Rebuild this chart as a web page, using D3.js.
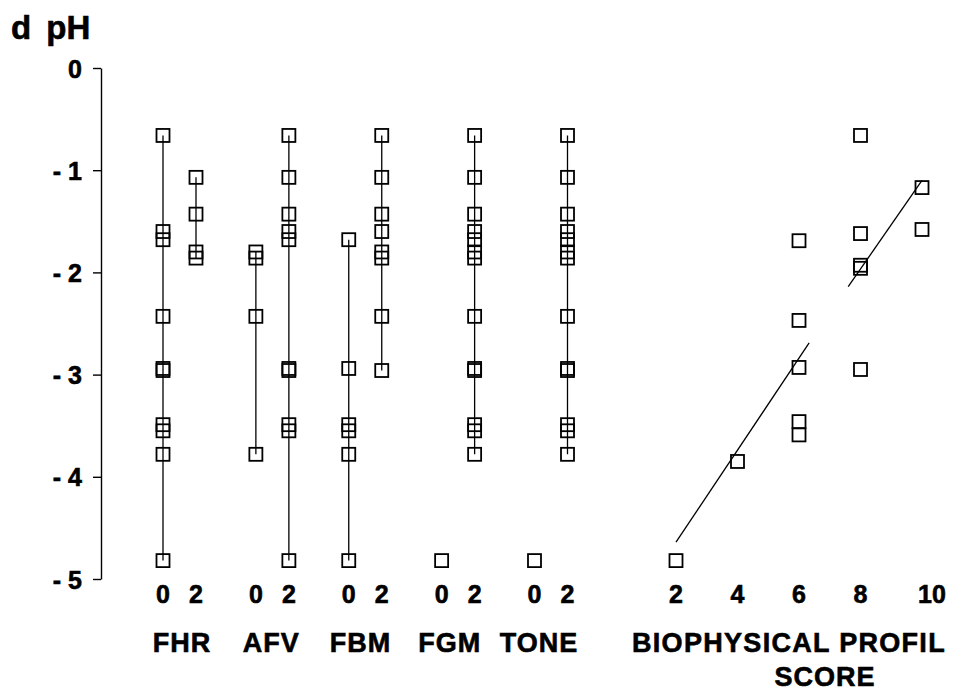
<!DOCTYPE html>
<html>
<head>
  <meta charset="utf-8">
  <title>d pH by biophysical profile item</title>
  <style>
    body { margin: 0; background: #fff; }
    svg text { font-family: "Liberation Sans", Arial, sans-serif; font-weight: bold; fill: #000; stroke: #000; stroke-width: 0.6; }
    .sq { fill: none; stroke: #000; stroke-width: 1.8; }
    .rng { stroke: #000; stroke-width: 1.3; }
  </style>
</head>
<body>
  <svg id="chart"></svg>

  <script src="https://cdn.jsdelivr.net/npm/d3@7"></script>
  <script>
    // biophysical profile items, each scored 0 or 2
    const groups = ['FHR', 'AFV', 'FBM', 'FGM', 'TONE'];
    const itemScores = [0, 2];

    // d pH values per item score
    const fhr0 = [-0.66, -1.6, -1.68, -2.43, -2.94, -2.96, -3.49, -3.55, -3.78, -4.82];
    const fhr2 = [-1.07, -1.43, -1.8, -1.86];
    const afv0 = [-1.8, -1.86, -2.43, -3.78];
    const afv2 = [-0.66, -1.07, -1.43, -1.6, -1.68, -2.94, -2.96, -3.49, -3.55, -4.82];
    const fbm0 = [-1.68, -2.94, -3.49, -3.55, -3.78, -4.82];
    const fbm2 = [-0.66, -1.07, -1.43, -1.6, -1.8, -1.86, -2.43, -2.96];
    const fgm0 = [-4.82];
    const fgm2 = [-0.66, -1.07, -1.43, -1.6, -1.68, -1.8, -1.86, -2.43, -2.94, -2.96, -3.49, -3.55, -3.78];
    const tone0 = [-4.82];
    const tone2 = [-0.66, -1.07, -1.43, -1.6, -1.68, -1.8, -1.86, -2.43, -2.94, -2.96, -3.49, -3.55, -3.78];

    // total biophysical profile score vs d pH
    const bpScores = [2, 4, 6, 6, 6, 6, 6, 8, 8, 8, 8, 8, 10, 10];
    const bpDpH = [-4.82, -3.85, -1.69, -2.47, -2.93, -3.46, -3.59, -0.66, -1.62, -1.93, -1.96, -2.95, -1.17, -1.58];
    const bpTicks = [2, 4, 6, 8, 10];

    // fitted lines (score, d pH at each end)
    const fit1X = [2, 6.33];
    const fit1Y = [-4.64, -2.69];
    const fit2X = [7.6, 10];
    const fit2Y = [-2.14, -1.1];

    const yTicks = [0, -1, -2, -3, -4, -5];

    const width = 955, height = 696;
    const svg = d3.select('#chart').attr('width', width).attr('height', height);

    const y = d3.scaleLinear().domain([0, -5]).range([68, 579]);
    const xGroup = d3.scalePoint().domain(groups).range([179.5, 551]);
    const xItem = d3.scaleLinear().domain([0, 2]).range([-16.5, 16.5]);
    const xScore = d3.scaleLinear().domain([2, 10]).range([676, 922]);
    // group names sit a little tighter than the columns
    const xGroupLabel = d3.scalePoint().domain(groups).range([182, 539]);

    // columns table built from the arrays above
    const values = [[fhr0, fhr2], [afv0, afv2], [fbm0, fbm2], [fgm0, fgm2], [tone0, tone2]];
    const columns = [];
    groups.forEach((g, i) => {
      itemScores.forEach((s, j) => {
        columns.push({ group: g, score: s, vals: values[i][j], x: xGroup(g) + xItem(s) });
      });
    });

    // y axis
    const yAxis = d3.axisLeft(y)
      .tickValues(yTicks)
      .tickSize(8)
      .tickSizeOuter(0)
      .tickPadding(11)
      .tickFormat(d => d === 0 ? '0' : '- ' + Math.abs(d));
    const ya = svg.append('g').attr('transform', 'translate(101,0)').call(yAxis);
    ya.selectAll('path, line').attr('stroke', '#000').attr('stroke-width', 1.4);
    ya.selectAll('text').attr('font-size', 25).attr('font-family', null).attr('dy', '0.36em');

    svg.append('text')
      .attr('x', 11).attr('y', 39)
      .attr('font-size', 33)
      .attr('word-spacing', 6)
      .text('d pH');

    // range lines and squares for item columns
    const half = 6.5;
    columns.filter(c => c.vals.length > 1).forEach(c => {
      svg.append('line').attr('class', 'rng')
        .attr('x1', c.x).attr('x2', c.x)
        .attr('y1', y(d3.max(c.vals))).attr('y2', y(d3.min(c.vals)));
    });
    columns.forEach(c => {
      svg.selectAll(null).data(c.vals).enter().append('rect')
        .attr('class', 'sq')
        .attr('x', c.x - half).attr('y', d => y(d) - half)
        .attr('width', half * 2).attr('height', half * 2);
    });

    // fitted lines
    [[fit1X, fit1Y], [fit2X, fit2Y]].forEach(([fx, fy]) => {
      svg.append('line').attr('class', 'rng')
        .attr('x1', xScore(fx[0])).attr('y1', y(fy[0]))
        .attr('x2', xScore(fx[1])).attr('y2', y(fy[1]));
    });

    // biophysical score squares
    svg.selectAll('.bp').data(bpScores).enter().append('rect')
      .attr('class', 'sq bp')
      .attr('x', d => xScore(d) - half)
      .attr('y', (d, i) => y(bpDpH[i]) - half)
      .attr('width', half * 2).attr('height', half * 2);

    // bottom labels
    svg.selectAll('.itemlab').data(columns).enter().append('text')
      .attr('class', 'itemlab')
      .attr('x', d => d.x).attr('y', 603)
      .attr('text-anchor', 'middle')
      .attr('font-size', 25)
      .text(d => d.score);

    svg.selectAll('.bplab').data(bpTicks).enter().append('text')
      .attr('class', 'bplab')
      .attr('x', d => xScore(d) + (String(d).length > 1 ? 10 : 0)).attr('y', 603)
      .attr('text-anchor', 'middle')
      .attr('font-size', 25)
      .text(d => d);

    svg.selectAll('.grplab').data(groups).enter().append('text')
      .attr('class', 'grplab')
      .attr('x', d => xGroupLabel(d)).attr('y', 652)
      .attr('text-anchor', 'middle')
      .attr('font-size', 27)
      .attr('letter-spacing', 1)
      .text(d => d);

    svg.append('text')
      .attr('x', 632).attr('y', 652)
      .attr('font-size', 27)
      .attr('letter-spacing', 1.3)
      .text('BIOPHYSICAL PROFIL');

    svg.append('text')
      .attr('x', 825).attr('y', 686)
      .attr('text-anchor', 'middle')
      .attr('font-size', 27)
      .attr('letter-spacing', 1)
      .text('SCORE');
  </script>
</body>
</html>
